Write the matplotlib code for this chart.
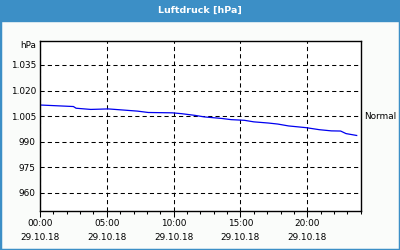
import matplotlib
matplotlib.use('Agg')
import matplotlib.pyplot as plt
from matplotlib.patches import Rectangle

# Luftdruck over the day (hours since 00:00 on 29.10.18)
stunden = [0.0, 2.5, 2.7, 3.8, 5.1, 6.3, 7.3, 8.1, 9.9, 10.6, 11.6, 12.3,
           13.6, 14.3, 15.3, 16.0, 17.1, 17.8, 18.6, 19.9, 20.9, 21.8,
           22.5, 22.9, 23.7]
druck = [1011.5, 1010.6, 1009.6, 1008.9, 1009.2, 1008.5, 1007.9, 1007.1,
         1006.9, 1006.4, 1005.4, 1004.5, 1003.6, 1002.9, 1002.5, 1001.6,
         1000.9, 1000.3, 999.2, 998.2, 997.0, 996.3, 996.2, 994.7, 993.6]

y_ticks = [960, 975, 990, 1005, 1020, 1035]
y_labels = ['960', '975', '990', '1.005', '1.020', '1.035']
x_ticks = [0, 5, 10, 15, 20]
x_labels = ['00:00\n29.10.18', '05:00\n29.10.18', '10:00\n29.10.18',
            '15:00\n29.10.18', '20:00\n29.10.18']

blau = '#3c8fc6'
fs = 6.4

fig = plt.figure(figsize=(4, 2.5), dpi=100)
fig.patch.set_facecolor('#fafcfa')

# window frame and title bar
fig.patches.append(Rectangle((0, 0), 1, 1, transform=fig.transFigure,
                             fill=False, edgecolor=blau, lw=2.5, zorder=0))
fig.patches.append(Rectangle((0, 1 - 20.5 / 250), 1, 20.5 / 250,
                             transform=fig.transFigure, color=blau, zorder=1))
fig.text(0.5, 1 - 10 / 250, 'Luftdruck [hPa]', color='white', fontsize=6.8,
         fontweight='bold', ha='center', va='center')

ax = fig.add_axes([40 / 400, 1 - 210.7 / 250, 320.7 / 400, 169.7 / 250])
ax.set_facecolor('white')
ax.plot(stunden, druck, color='#0000f0', lw=0.9)

ax.set_xlim(0, 24)
ax.set_ylim(949.4, 1049.1)
ax.set_yticks(y_ticks)
ax.set_yticklabels(y_labels)
ax.set_xticks(x_ticks)
ax.set_xticklabels(x_labels)
ax.set_xticks(range(0, 25), minor=True)
for lab in ax.get_xticklabels():
    lab.set_linespacing(1.75)

ax.grid(True, which='major', color='black', ls=(0, (4, 3)), lw=0.75)
ax.tick_params(axis='y', length=0, pad=3, labelsize=fs)
ax.tick_params(axis='x', which='major', length=4, width=0.75, pad=2,
               labelsize=fs)
ax.tick_params(axis='x', which='minor', length=2.2, width=0.75)
for s in ax.spines.values():
    s.set_linewidth(1.0)

ax.text(-0.012, 1.0, 'hPa', transform=ax.transAxes, ha='right', va='top',
        fontsize=fs)
ax.text(1.012, (1005 - 949.4) / (1049.1 - 949.4), 'Normal',
        transform=ax.transAxes, ha='left', va='center', fontsize=fs)

fig.savefig('out.png', dpi=100, facecolor=fig.get_facecolor())
